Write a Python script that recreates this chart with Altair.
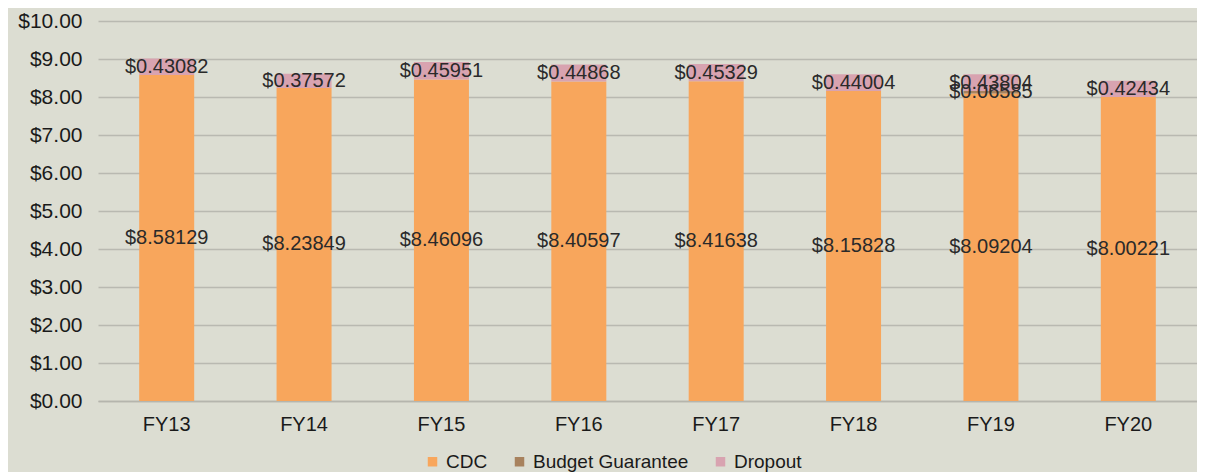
import altair as alt
import pandas as pd

years = ["FY13", "FY14", "FY15", "FY16", "FY17", "FY18", "FY19", "FY20"]
cdc = [8.58129, 8.23849, 8.46096, 8.40597, 8.41638, 8.15828, 8.09204, 8.00221]
budget_guarantee = [0, 0, 0, 0, 0, 0, 0.06585, 0]
dropout = [0.43082, 0.37572, 0.45951, 0.44868, 0.45329, 0.44004, 0.43804, 0.42434]
series = ["CDC", "Budget Guarantee", "Dropout"]
colors = ["#F8A65C", "#A8825E", "#D8A3B0"]
y_ticks = [0, 1, 2, 3, 4, 5, 6, 7, 8, 9, 10]

rows = []
for i, y in enumerate(years):
    for k, (s, vals) in enumerate(zip(series, [cdc, budget_guarantee, dropout])):
        rows.append({"year": y, "series": s, "value": vals[i], "order": k})
df = pd.DataFrame(rows)

FONT = "Liberation Sans"

x_axis = alt.Axis(labelAngle=0, labelFontSize=20, labelColor="#1a1a1a",
                  labelFont=FONT, ticks=False, domainColor="#b5b5ad",
                  domainWidth=1.5, labelPadding=13, grid=False)
y_axis = alt.Axis(values=y_ticks, format="$.2f",
                  labelFontSize=21, labelColor="#1a1a1a", labelFont=FONT,
                  labelOverlap=False,
                  ticks=False, domain=False, gridColor="#b9b9b1",
                  gridWidth=1.5, labelPadding=16,
                  minExtent=90, maxExtent=90)
y_scale = alt.Scale(domain=[0, 10], nice=False)

base = alt.Chart(df)

bars = base.mark_bar(size=55).encode(
    x=alt.X("year:N", sort=years, title=None, axis=x_axis),
    y=alt.Y("value:Q", stack="zero", title=None, scale=y_scale, axis=y_axis),
    color=alt.Color("series:N", sort=series,
                    scale=alt.Scale(domain=series, range=colors),
                    legend=alt.Legend(orient="none", legendX=325, legendY=431,
                                      direction="horizontal",
                                      title=None, symbolType="square",
                                      symbolSize=90, labelFontSize=19,
                                      labelFont=FONT, labelColor="#1a1a1a",
                                      symbolStrokeWidth=0, columnPadding=22)),
    order=alt.Order("order:Q"),
)

labels = base.transform_stack(
    stack="value", groupby=["year"], as_=["y0", "y1"],
    sort=[alt.SortField("order", order="ascending")]
).transform_filter(
    alt.datum.value > 0
).transform_calculate(
    mid="(datum.y0 + datum.y1) / 2",
    lbl="'$' + format(datum.value, '.5f')"
).mark_text(fontSize=20, font=FONT, color="#2a2a2a").encode(
    x=alt.X("year:N", sort=years, title=None, axis=None),
    y=alt.Y("mid:Q", title=None, scale=y_scale, axis=None),
    text="lbl:N",
)

chart = alt.layer(bars, labels).resolve_axis(
    x="independent", y="independent"
).properties(
    width=1099, height=380,
    padding={"left": 0, "top": 2, "right": 0, "bottom": 0},
    background="#DCDDD2",
).configure_view(stroke=None).configure_axisY(
    labelAlign="right"
)

chart.save("out.html", embed_options={"renderer": "svg", "actions": False})
